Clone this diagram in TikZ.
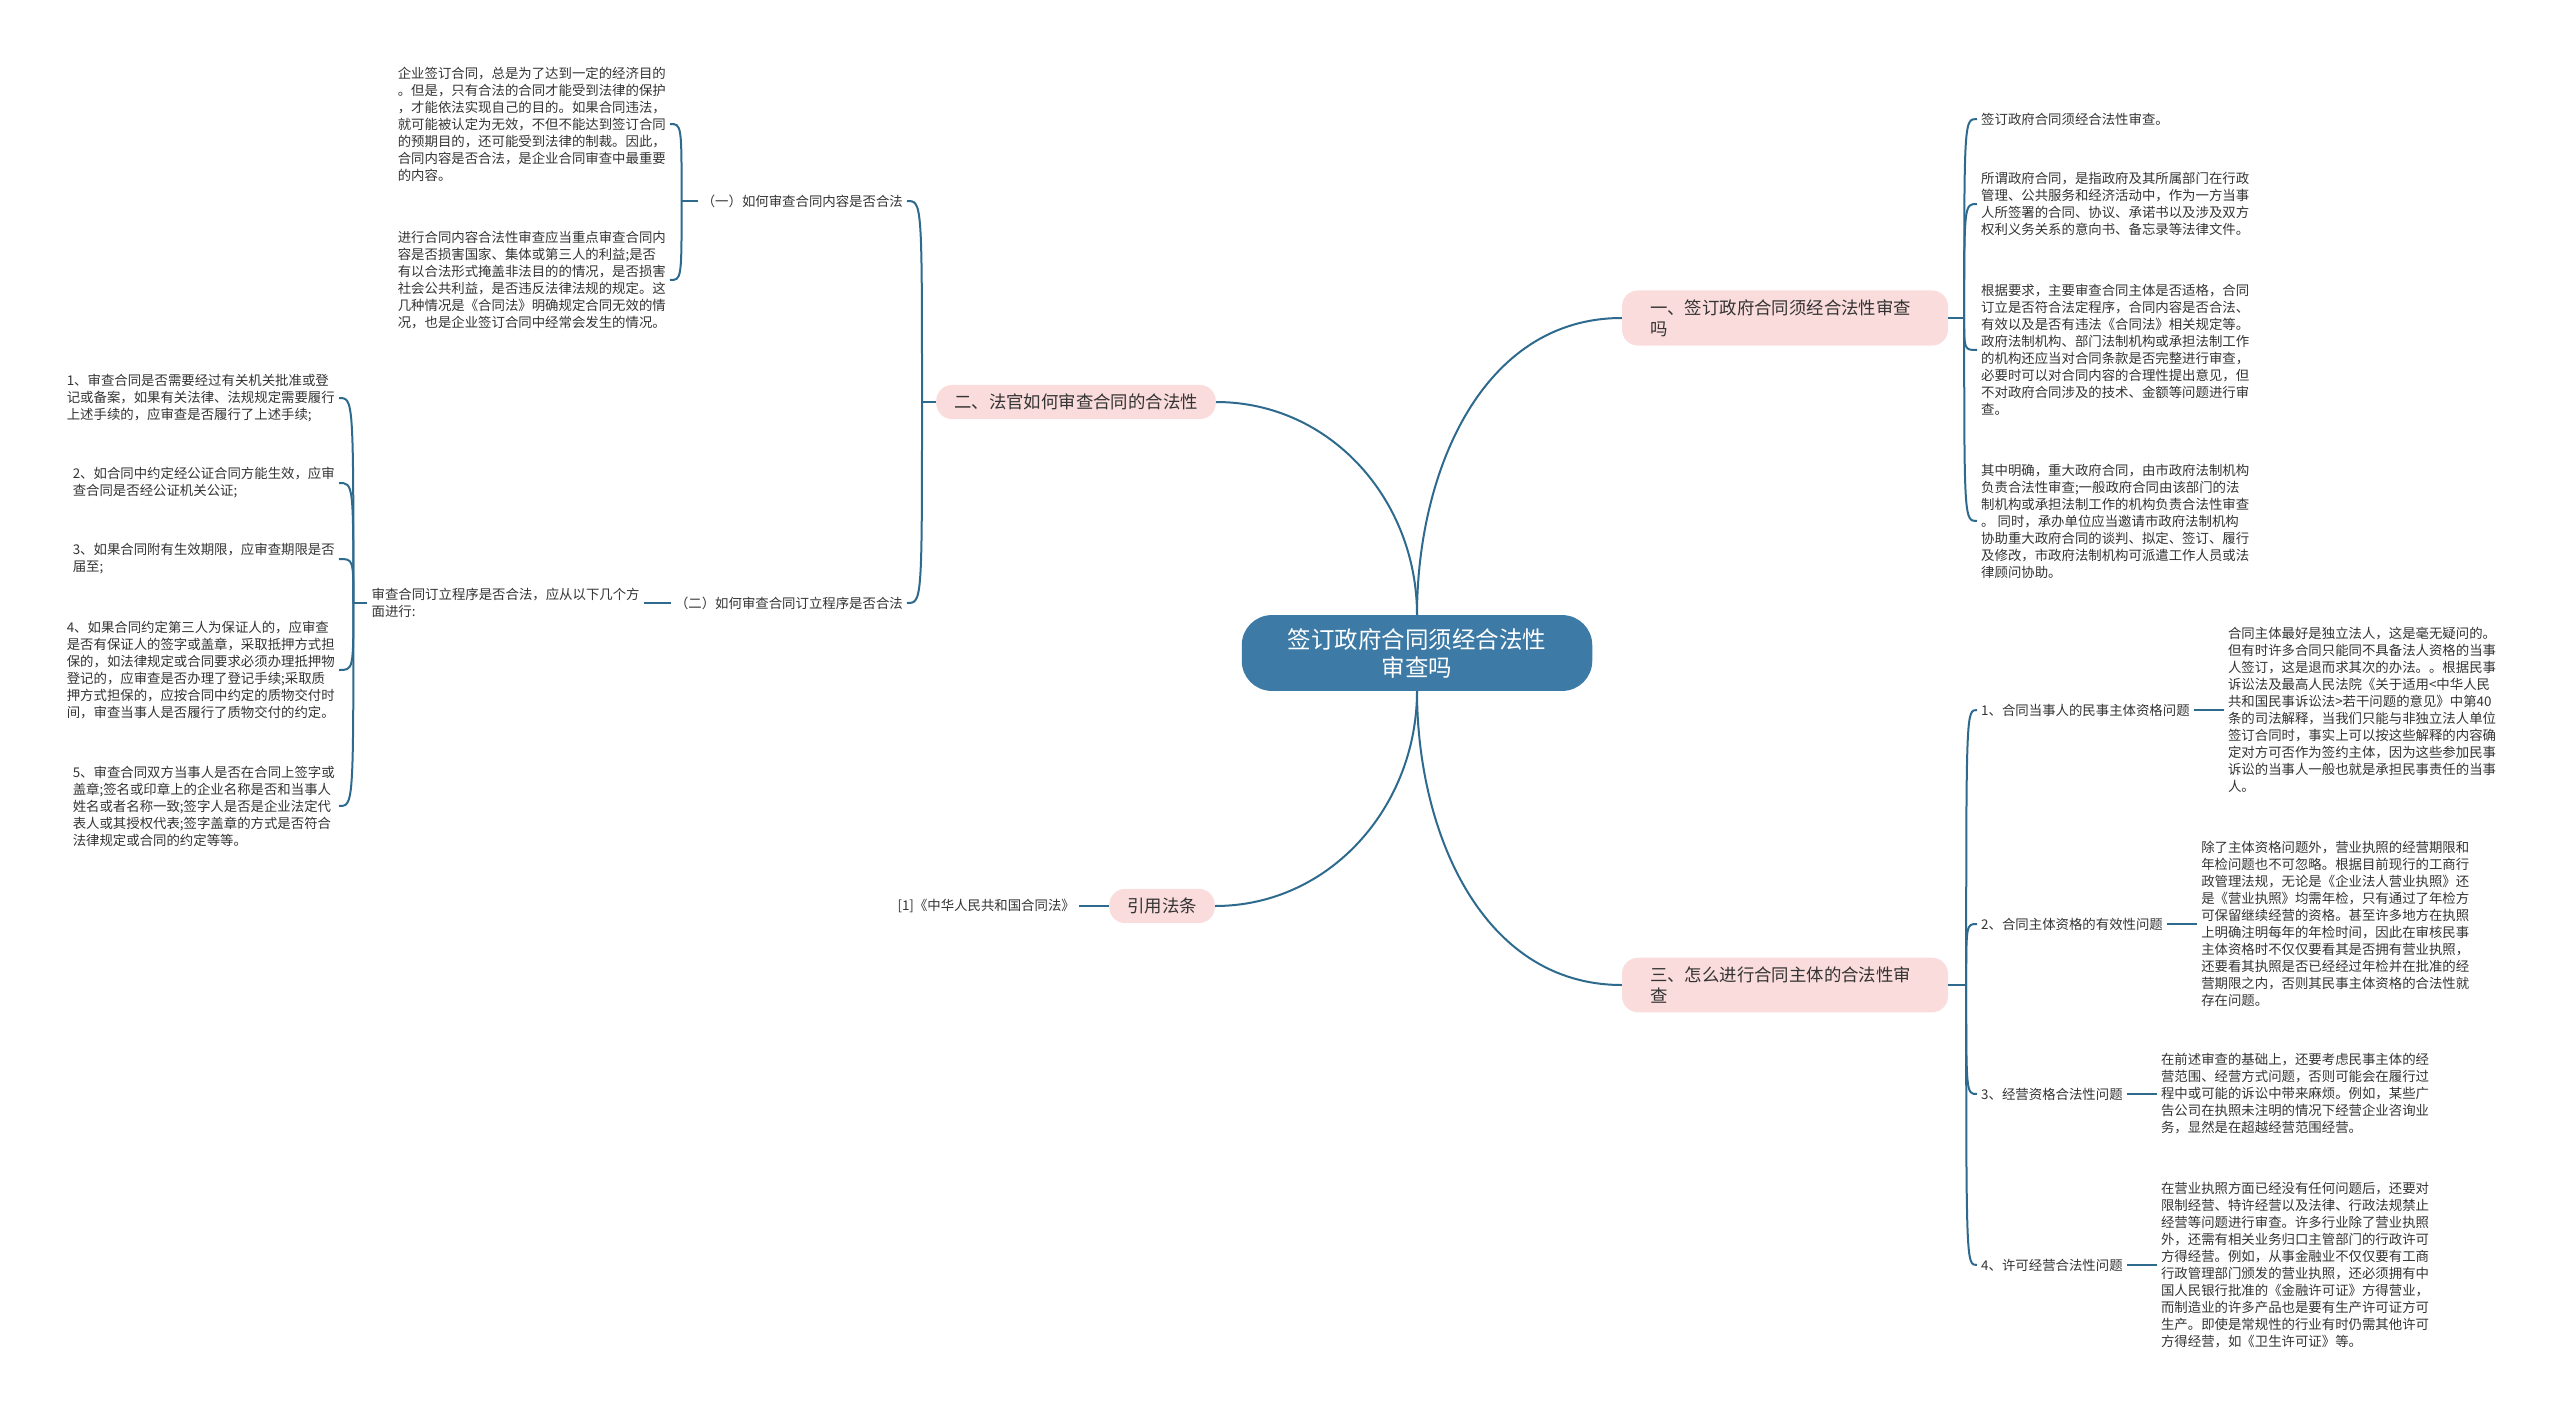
\documentclass[tikz,border=0pt]{standalone}
\usepackage{fontspec}
\setmainfont{Noto Sans CJK SC}
\usepackage{xcolor}
\usepackage{tikz}
\usetikzlibrary{positioning}
\definecolor{rootblue}{HTML}{3D7AA5}
\definecolor{topicpink}{HTML}{FADCDC}
\definecolor{linkblue}{HTML}{2E6A8E}
\definecolor{leafgray}{HTML}{333333}

\begin{document}
\begin{tikzpicture}[
    x=1pt, y=1pt,
    root/.style={fill=rootblue, text=white, rounded corners=30pt, inner xsep=46pt, inner ysep=13pt, align=center, font=\fontsize{23.5}{28}\selectfont},
    topic/.style={fill=topicpink, text=leafgray, rounded corners=16pt, inner xsep=18pt, inner ysep=9pt, align=left, font=\fontsize{17.4}{21}\selectfont},
    wide/.style={text width=270pt, inner xsep=28pt},
    leaf/.style={text=leafgray, inner sep=4pt, align=left, font=\fontsize{13.4}{17}\selectfont},
    link/.style={draw=linkblue, line width=2pt}
]
    \useasboundingbox (0,0) rectangle (2560,-1416);

    \node[root] (root) at (1417,-653) {签订政府合同须经合法性\\审查吗};

    \node[topic, wide] (b1) at (1785,-318) {一、签订政府合同须经合法性审查\\吗};
    \node[topic, wide] (b2) at (1785,-985) {三、怎么进行合同主体的合法性审\\查};
    \node[topic] (b3) at (1076,-402) {二、法官如何审查合同的合法性};
    \node[topic] (b4) at (1162,-906) {引用法条};

    \draw[link] (root.north) to[out=90,in=180] (b1.west);
    \draw[link] (root.north) to[out=90,in=0] (b3.east);
    \draw[link] (root.south) to[out=-90,in=180] (b2.west);
    \draw[link] (root.south) to[out=-90,in=0] (b4.east);

    \node[leaf, anchor=west] (t1a) at (1977,-119) {签订政府合同须经合法性审查。};
    \node[leaf, anchor=west] (t1b) at (1977,-204) {所谓政府合同，是指政府及其所属部门在行政\\管理、公共服务和经济活动中，作为一方当事\\人所签署的合同、协议、承诺书以及涉及双方\\权利义务关系的意向书、备忘录等法律文件。};
    \node[leaf, anchor=west] (t1c) at (1977,-350) {根据要求，主要审查合同主体是否适格，合同\\订立是否符合法定程序，合同内容是否合法、\\有效以及是否有违法《合同法》相关规定等。\\政府法制机构、部门法制机构或承担法制工作\\的机构还应当对合同条款是否完整进行审查，\\必要时可以对合同内容的合理性提出意见，但\\不对政府合同涉及的技术、金额等问题进行审\\查。};
    \node[leaf, anchor=west] (t1d) at (1977,-521) {其中明确，重大政府合同，由市政府法制机构\\负责合法性审查;一般政府合同由该部门的法\\制机构或承担法制工作的机构负责合法性审查\\。 同时，承办单位应当邀请市政府法制机构\\协助重大政府合同的谈判、拟定、签订、履行\\及修改，市政府法制机构可派遣工作人员或法\\律顾问协助。};

    \draw[link] (b1.east) -- ++(16,0) coordinate (k1);
    \draw[link] (k1) .. controls (k1 |- t1a.west) .. (t1a.west);
    \draw[link] (k1) .. controls (k1 |- t1b.west) .. (t1b.west);
    \draw[link] (k1) .. controls (k1 |- t1c.west) .. (t1c.west);
    \draw[link] (k1) .. controls (k1 |- t1d.west) .. (t1d.west);

    \node[leaf, anchor=west] (r1) at (1977,-710) {1、合同当事人的民事主体资格问题};
    \node[leaf, anchor=west] (r2) at (1977,-924) {2、合同主体资格的有效性问题};
    \node[leaf, anchor=west] (r3) at (1977,-1094) {3、经营资格合法性问题};
    \node[leaf, anchor=west] (r4) at (1977,-1265) {4、许可经营合法性问题};

    \node[leaf, right=30pt of r1] (d1) {合同主体最好是独立法人，这是毫无疑问的。\\但有时许多合同只能同不具备法人资格的当事\\人签订，这是退而求其次的办法。。根据民事\\诉讼法及最高人民法院《关于适用<中华人民\\共和国民事诉讼法>若干问题的意见》中第40\\条的司法解释，当我们只能与非独立法人单位\\签订合同时，事实上可以按这些解释的内容确\\定对方可否作为签约主体，因为这些参加民事\\诉讼的当事人一般也就是承担民事责任的当事\\人。};
    \node[leaf, right=30pt of r2] (d2) {除了主体资格问题外，营业执照的经营期限和\\年检问题也不可忽略。根据目前现行的工商行\\政管理法规，无论是《企业法人营业执照》还\\是《营业执照》均需年检，只有通过了年检方\\可保留继续经营的资格。甚至许多地方在执照\\上明确注明每年的年检时间，因此在审核民事\\主体资格时不仅仅要看其是否拥有营业执照，\\还要看其执照是否已经经过年检并在批准的经\\营期限之内，否则其民事主体资格的合法性就\\存在问题。};
    \node[leaf, right=30pt of r3] (d3) {在前述审查的基础上，还要考虑民事主体的经\\营范围、经营方式问题，否则可能会在履行过\\程中或可能的诉讼中带来麻烦。例如，某些广\\告公司在执照未注明的情况下经营企业咨询业\\务，显然是在超越经营范围经营。};
    \node[leaf, right=30pt of r4] (d4) {在营业执照方面已经没有任何问题后，还要对\\限制经营、特许经营以及法律、行政法规禁止\\经营等问题进行审查。许多行业除了营业执照\\外，还需有相关业务归口主管部门的行政许可\\方得经营。例如，从事金融业不仅仅要有工商\\行政管理部门颁发的营业执照，还必须拥有中\\国人民银行批准的《金融许可证》方得营业，\\而制造业的许多产品也是要有生产许可证方可\\生产。即使是常规性的行业有时仍需其他许可\\方得经营，如《卫生许可证》等。};

    \draw[link] (b2.east) -- ++(18,0) coordinate (k2);
    \draw[link] (k2) .. controls (k2 |- r1.west) .. (r1.west);
    \draw[link] (k2) .. controls (k2 |- r2.west) .. (r2.west);
    \draw[link] (k2) .. controls (k2 |- r3.west) .. (r3.west);
    \draw[link] (k2) .. controls (k2 |- r4.west) .. (r4.west);
    \draw[link] (r1.east) -- (d1.west);
    \draw[link] (r2.east) -- (d2.west);
    \draw[link] (r3.east) -- (d3.west);
    \draw[link] (r4.east) -- (d4.west);

    \node[leaf, anchor=east] (l1) at (907,-201) {（一）如何审查合同内容是否合法};
    \node[leaf, anchor=east] (l2) at (907,-603) {（二）如何审查合同订立程序是否合法};
    \node[leaf, anchor=east] (t2a) at (670,-124) {企业签订合同，总是为了达到一定的经济目的\\。但是，只有合法的合同才能受到法律的保护\\，才能依法实现自己的目的。如果合同违法，\\就可能被认定为无效，不但不能达到签订合同\\的预期目的，还可能受到法律的制裁。因此，\\合同内容是否合法，是企业合同审查中最重要\\的内容。};
    \node[leaf, anchor=east] (t2b) at (670,-280) {进行合同内容合法性审查应当重点审查合同内\\容是否损害国家、集体或第三人的利益;是否\\有以合法形式掩盖非法目的的情况，是否损害\\社会公共利益，是否违反法律法规的规定。这\\几种情况是《合同法》明确规定合同无效的情\\况，也是企业签订合同中经常会发生的情况。};
    \node[leaf, left=27pt of l2] (s) {审查合同订立程序是否合法，应从以下几个方\\面进行:};

    \node[leaf, anchor=east] (i1) at (339,-398) {1、审查合同是否需要经过有关机关批准或登\\记或备案，如果有关法律、法规规定需要履行\\上述手续的，应审查是否履行了上述手续;};
    \node[leaf, anchor=east] (i2) at (339,-483) {2、如合同中约定经公证合同方能生效，应审\\查合同是否经公证机关公证;};
    \node[leaf, anchor=east] (i3) at (339,-559) {3、如果合同附有生效期限，应审查期限是否\\届至;};
    \node[leaf, anchor=east] (i4) at (339,-670) {4、如果合同约定第三人为保证人的，应审查\\是否有保证人的签字或盖章，采取抵押方式担\\保的，如法律规定或合同要求必须办理抵押物\\登记的，应审查是否办理了登记手续;采取质\\押方式担保的，应按合同中约定的质物交付时\\间，审查当事人是否履行了质物交付的约定。};
    \node[leaf, anchor=east] (i5) at (339,-806) {5、审查合同双方当事人是否在合同上签字或\\盖章;签名或印章上的企业名称是否和当事人\\姓名或者名称一致;签字人是否是企业法定代\\表人或其授权代表;签字盖章的方式是否符合\\法律规定或合同的约定等等。};

    \draw[link] (b3.west) -- ++(-14,0) coordinate (k3);
    \draw[link] (k3) .. controls (k3 |- l1.east) .. (l1.east);
    \draw[link] (k3) .. controls (k3 |- l2.east) .. (l2.east);
    \draw[link] (l1.west) -- ++(-16,0) coordinate (k4);
    \draw[link] (k4) .. controls (k4 |- t2a.east) .. (t2a.east);
    \draw[link] (k4) .. controls (k4 |- t2b.east) .. (t2b.east);
    \draw[link] (l2.west) -- (s.east);
    \draw[link] (s.west) -- ++(-14,0) coordinate (k5);
    \draw[link] (k5) .. controls (k5 |- i1.east) .. (i1.east);
    \draw[link] (k5) .. controls (k5 |- i2.east) .. (i2.east);
    \draw[link] (k5) .. controls (k5 |- i3.east) .. (i3.east);
    \draw[link] (k5) .. controls (k5 |- i4.east) .. (i4.east);
    \draw[link] (k5) .. controls (k5 |- i5.east) .. (i5.east);

    \node[leaf, left=30pt of b4] (c1) {[1]《中华人民共和国合同法》};
    \draw[link] (b4.west) -- (c1.east);
\end{tikzpicture}
\end{document}
